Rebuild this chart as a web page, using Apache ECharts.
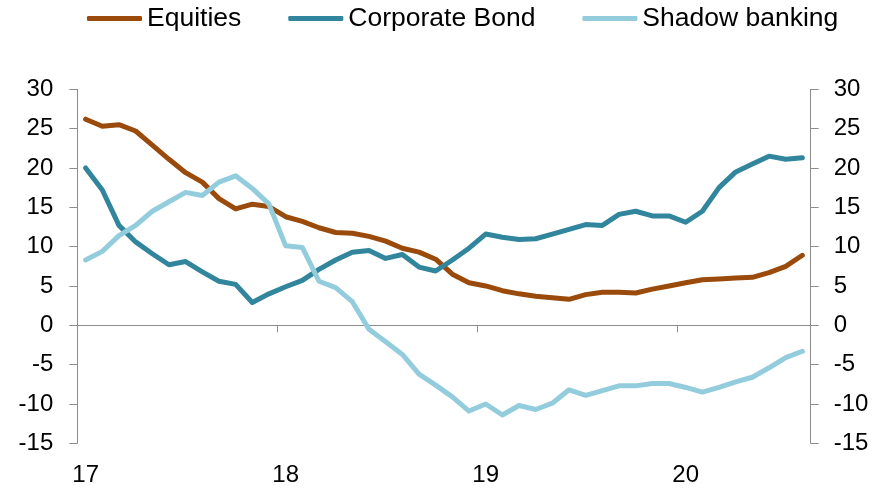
<!DOCTYPE html>
<html>
<head>
<meta charset="utf-8">
<script src="https://cdn.jsdelivr.net/npm/echarts@6/dist/echarts.min.js"></script>
<style>
  html, body { margin: 0; padding: 0; background: #fff; }
  #chart { width: 889px; height: 488px; }
</style>
</head>
<body>
<div id="chart"></div>
<script>
// Monthly observations, Jan 2017 .. Aug 2020
const years = ['17', '18', '19', '20'];
const monthsInLastYear = 8;
const categories = [];
years.forEach(function (y, yi) {
  const n = yi === years.length - 1 ? monthsInLastYear : 12;
  for (let m = 1; m <= n; m++) categories.push(y + '-' + (m < 10 ? '0' + m : m));
});

const seriesNames = ['Equities', 'Corporate Bond', 'Shadow banking'];

const equities = [26.2, 25.3, 25.5, 24.7, 22.9, 21.1, 19.4, 18.2, 16.1, 14.8, 15.4, 15.1,
  13.8, 13.2, 12.4, 11.8, 11.7, 11.3, 10.7, 9.8, 9.3, 8.4, 6.5, 5.4,
  5.0, 4.4, 4.0, 3.7, 3.5, 3.3, 3.9, 4.2, 4.2, 4.1, 4.6, 5.0,
  5.4, 5.8, 5.9, 6.0, 6.1, 6.7, 7.5, 8.9];

const corporateBond = [20.0, 17.2, 12.7, 10.6, 9.1, 7.7, 8.1, 6.8, 5.6, 5.2, 2.9, 4.0,
  4.9, 5.7, 7.1, 8.3, 9.3, 9.5, 8.5, 9.0, 7.4, 6.9, 8.3, 9.8,
  11.6, 11.2, 10.9, 11.0, 11.6, 12.2, 12.8, 12.7, 14.1, 14.5, 13.9, 13.9,
  13.1, 14.5, 17.5, 19.5, 20.5, 21.5, 21.1, 21.3];

const shadowBanking = [8.3, 9.4, 11.4, 12.7, 14.5, 15.7, 16.9, 16.5, 18.2, 19.0, 17.4, 15.4,
  10.1, 9.9, 5.6, 4.8, 3.0, -0.5, -2.1, -3.7, -6.2, -7.6, -9.1, -10.9,
  -10.0, -11.4, -10.2, -10.7, -9.9, -8.2, -8.9, -8.3, -7.7, -7.7, -7.4, -7.4,
  -7.9, -8.5, -7.9, -7.2, -6.6, -5.4, -4.1, -3.3];

const yMin = -15, yMax = 30, yStep = 5;

const colors = ['#9A4A0B', '#31859C', '#93CDDD'];
const FONT = "'Liberation Sans', Arial, sans-serif";
const axisGray = '#8C8C8C';

const chart = echarts.init(document.getElementById('chart'), null, { renderer: 'canvas' });

function yAxisCfg(pos, margin) {
  return {
    type: 'value', position: pos, min: yMin, max: yMax, interval: yStep,
    axisLine: { show: true, onZero: false, lineStyle: { color: axisGray, width: 1 } },
    axisTick: { show: true, inside: false, length: 8, lineStyle: { color: axisGray } },
    splitLine: { show: false },
    axisLabel: { margin: margin, fontSize: 24, color: '#000', fontFamily: FONT }
  };
}

chart.setOption({
  animation: false,
  backgroundColor: '#fff',
  color: colors,
  legend: {
    data: seriesNames,
    left: 87, top: 5, padding: 0,
    icon: 'roundRect', itemWidth: 55, itemHeight: 5, itemGap: 47,
    textStyle: { fontSize: 26.5, color: '#000', fontFamily: FONT, padding: [0, 0, 0, 0] }
  },
  grid: { left: 77.3, right: 78.3, top: 89.3, bottom: 44.7, containLabel: false },
  xAxis: [
    {
      type: 'category', data: categories, boundaryGap: true, position: 'bottom',
      axisLine: { show: true, onZero: true, onZeroAxisIndex: 0, lineStyle: { color: axisGray, width: 1 } },
      axisTick: { show: true, interval: 11, alignWithLabel: false, length: 7, lineStyle: { color: axisGray } },
      axisLabel: { show: false, interval: 11 },
      splitLine: { show: false }
    },
    {
      type: 'category', data: categories, boundaryGap: true, position: 'bottom',
      axisLine: { show: false, onZero: false },
      axisTick: { show: false },
      axisLabel: {
        show: true, interval: 11, margin: 20, fontSize: 24, color: '#000', fontFamily: FONT,
        formatter: function (v) { return v.split('-')[0]; }
      },
      splitLine: { show: false }
    }
  ],
  yAxis: [yAxisCfg('left', 24), yAxisCfg('right', 23)],
  series: [
    { name: seriesNames[0], data: equities },
    { name: seriesNames[1], data: corporateBond },
    { name: seriesNames[2], data: shadowBanking }
  ].map(function (s, i) {
    return {
      name: s.name, type: 'line', data: s.data, xAxisIndex: 0, yAxisIndex: 0,
      showSymbol: false, symbol: 'none', smooth: false,
      lineStyle: { width: 5, color: colors[i], cap: 'round', join: 'round' },
      itemStyle: { color: colors[i] }
    };
  })
});
</script>
</body>
</html>
